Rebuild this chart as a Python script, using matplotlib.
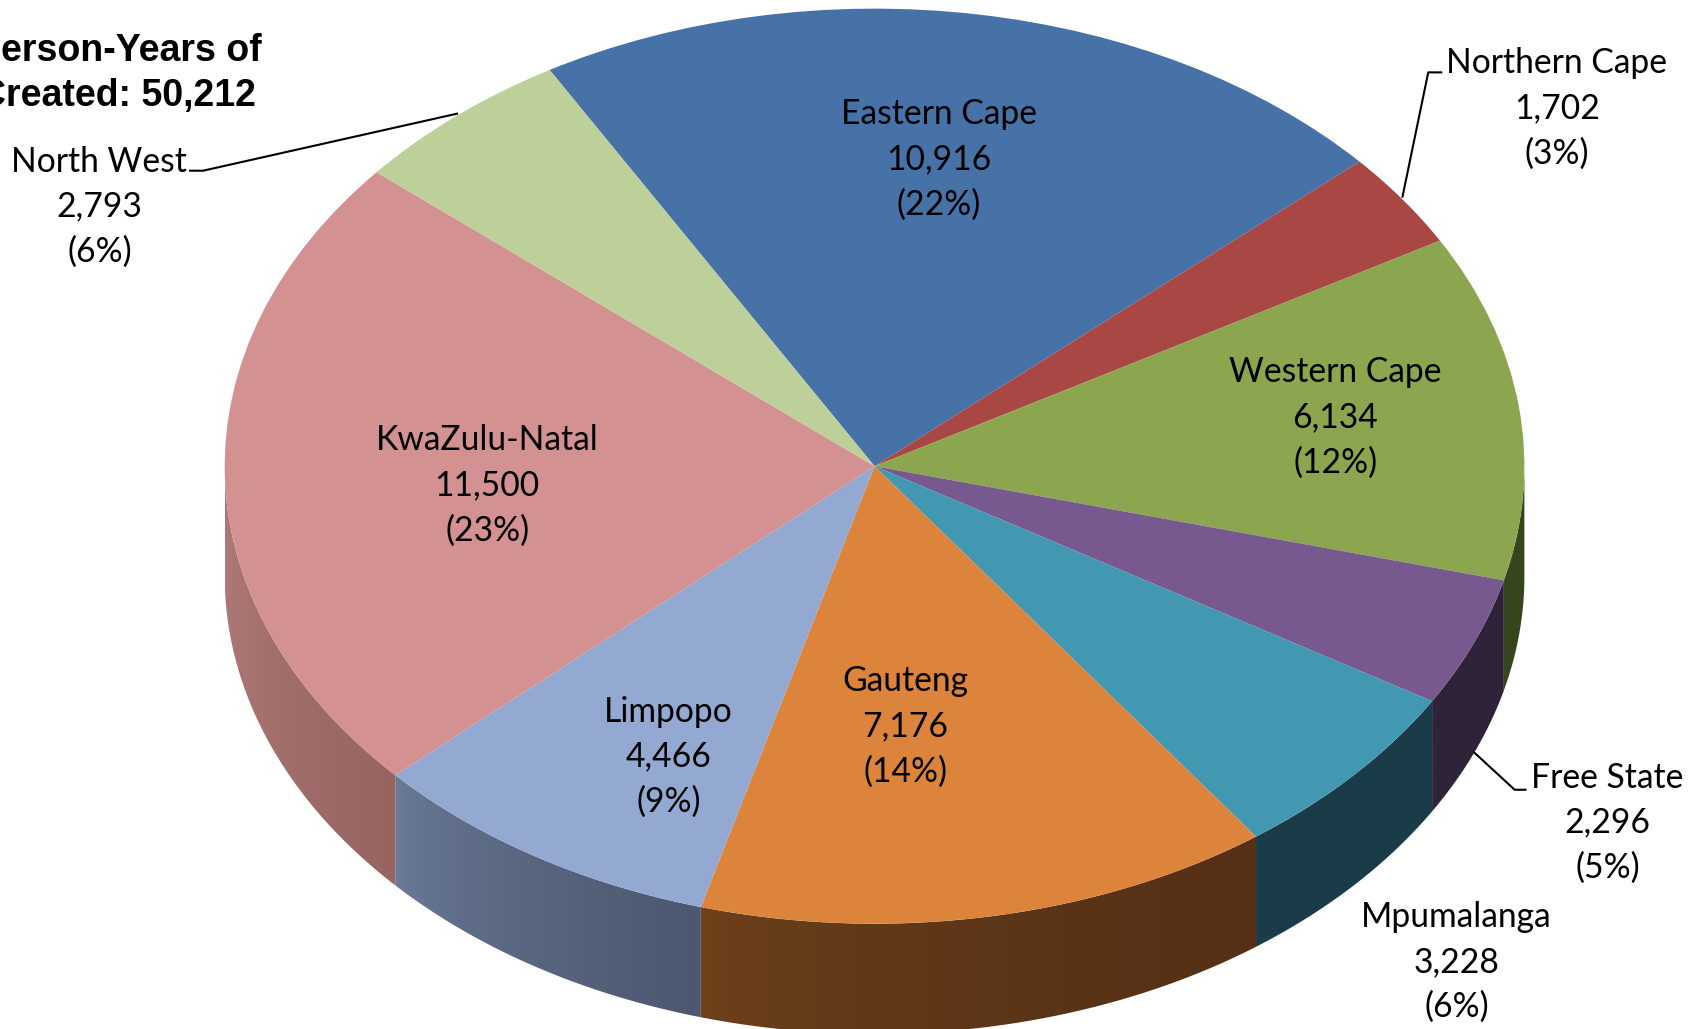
import numpy as np
import matplotlib
matplotlib.use("Agg")
import matplotlib.pyplot as plt
from matplotlib.colors import to_rgb
from matplotlib.patches import Polygon

# ---- data ----
provinces = ["Eastern Cape", "Northern Cape", "Western Cape", "Free State", "Mpumalanga",
             "Gauteng", "Limpopo", "KwaZulu-Natal", "North West"]
person_years = [10916, 1702, 6134, 2296, 3228, 7176, 4466, 11500, 2793]
title_lines = ["Person-Years of", "Created: 50,212"]

# ---- styles ----
top_colors = ["#4772A8", "#A94744", "#8BA64F", "#775990", "#4298B0",
              "#DC843C", "#93A9D1", "#D49191", "#BDD09A"]
wall_left = ["#2A4464", "#652A28", "#37451C", "#2E2338", "#1A3C48",
             "#6F421A", "#6C7C99", "#AE7A77", "#7A8A60"]
wall_right = ["#2A4464", "#652A28", "#37451C", "#2E2338", "#1A3C48",
              "#553016", "#4C586F", "#966461", "#7A8A60"]

W, H = 1694, 1029
S = W / 1568.0               # layout was measured on the 1568 px wide preview
CX, CY = 809.5 * S, 431.5 * S
RX, RY = 601.5 * S, 423.5 * S
DEPTH = 102 * S
START = 120.0

label_xy = [(869, 147.5), (1441, 100.5), (1236, 386.5), (1488, 761.5), (1348, 890.5),
            (838, 672.5), (619, 700.5), (451, 449.5), (92, 191.5)]
leaders = {
    "North West": [(175, 158), (188, 158), (424, 105)],
    "Northern Cape": [(1335, 67), (1322, 67), (1298, 183)],
    "Free State": [(1413, 731), (1402, 731), (1364, 696)],
}

fig = plt.figure(figsize=(W / 100, H / 100), dpi=100, facecolor="white")
ax = fig.add_axes([0, 0, 1, 1])

# top face: a unit pie squashed by the axes scales
ax.pie(person_years, colors=top_colors, startangle=START, counterclock=False,
       radius=1.0, center=(0, 0), wedgeprops=dict(linewidth=0), frame=False)
for p in ax.patches:
    p.set_zorder(5)

# side wall: follows the same slice angles, shaded left to right
depth_u = DEPTH / RY
fracs = np.array(person_years, float) / sum(person_years)
ends = START - 360 * np.cumsum(fracs)
starts = ends + 360 * fracs
for a0, a1, cl, cr in zip(starts, ends, wall_left, wall_right):
    # visible angles lie in the lower half (180..360 deg)
    for shift in (0, 360, -360):
        hi, lo = a0 + shift, a1 + shift
        lo2, hi2 = max(lo, 180), min(hi, 360)
        if hi2 <= lo2:
            continue
        th = np.radians(np.linspace(lo2, hi2, 200))
        xs, ys = np.cos(th), np.sin(th)
        poly = Polygon(np.c_[np.r_[xs, xs[::-1]], np.r_[ys, ys[::-1] - depth_u]],
                       closed=True, transform=ax.transData)
        c0, c1 = np.array(to_rgb(cl)), np.array(to_rgb(cr))
        f = np.linspace(0, 1, 256) ** 0.6
        grad = (c0[None, :] + (c1 - c0)[None, :] * f[:, None])[None, :, :]
        im = ax.imshow(grad, extent=[xs.min(), xs.max(), ys.min() - depth_u, ys.max()],
                       aspect="auto", interpolation="bilinear", zorder=2)
        im.set_clip_path(poly)

ax.set_aspect("auto")
ax.set_xlim((0 - CX) / RX, (W - CX) / RX)
ax.set_ylim((CY - H) / RY, (CY - 0) / RY)
ax.axis("off")

# overlay in reference pixels for labels and leader lines
ov = fig.add_axes([0, 0, 1, 1], facecolor="none")
ov.set_xlim(0, W)
ov.set_ylim(H, 0)
ov.axis("off")

total = sum(person_years)
for name, v, (lx, ly) in zip(provinces, person_years, label_xy):
    ov.text(lx * S, ly * S, f"{name}\n{v:,}\n({round(100 * v / total)}%)",
            ha="center", va="center", family="Lato", fontsize=24.2,
            color="black", linespacing=1.5, zorder=10)

for pts in leaders.values():
    arr = np.array(pts, float) * S
    ov.plot(arr[:, 0], arr[:, 1], color="black", lw=1.5, zorder=9, solid_capstyle="butt")

for line, right, y in zip(title_lines, (242, 237), (47.5, 88.5)):
    ov.text(right * S, y * S, line, ha="right", va="center", family="Liberation Sans",
            fontweight="bold", fontsize=27.0, color="black", zorder=10)

fig.savefig("out.png", dpi=100, facecolor="white")
